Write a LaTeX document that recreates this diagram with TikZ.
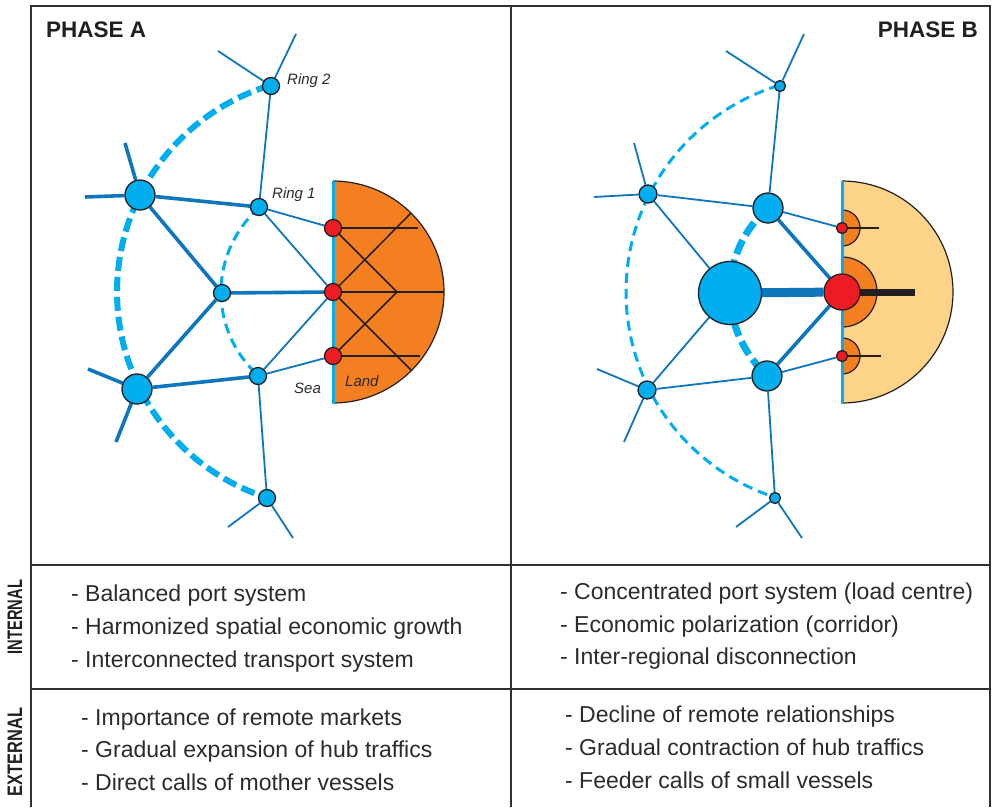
\documentclass[tikz,border=0pt]{standalone}
\usepackage{fontspec}
\setmainfont{Liberation Sans}
\definecolor{cy}{HTML}{00AEEF}
\definecolor{eb}{HTML}{0E76BC}
\definecolor{rd}{HTML}{ED1C24}
\definecolor{og}{HTML}{F37F20}
\definecolor{lo}{HTML}{FDD387}
\definecolor{ink}{HTML}{231F20}
\definecolor{tx}{HTML}{2B2B2B}
\definecolor{fr}{HTML}{303030}
\pgfdeclarelayer{paper}
\pgfdeclarelayer{bg}
\pgfsetlayers{paper,bg,main}
\begin{document}
\begin{tikzpicture}[x=1pt,y=-1pt,
  hub/.style={circle,draw=ink,line width=1.3pt,fill=cy,inner sep=0pt,minimum size=#1},
  port/.style={circle,draw=ink,line width=1.3pt,fill=rd,inner sep=0pt,minimum size=#1},
  lnk/.style={draw=eb,line width=1.8pt},
  lnkk/.style={draw=eb,line width=3.6pt},
  lnkkk/.style={draw=eb,line width=9pt},
  ringthick/.style={draw=cy,line width=6pt,dash pattern=on 14pt off 6pt},
  ringthin/.style={draw=cy,line width=3pt,dash pattern=on 10pt off 6pt},
  ringB/.style={draw=cy,line width=7pt,dash pattern=on 15pt off 6pt},
  coast/.style={draw=cy,line width=3pt},
  landline/.style={draw=ink,line width=1.5pt},
  frame/.style={draw=fr,line width=2pt},
  body/.style={inner sep=0pt,anchor=base west,text=tx,font=\fontsize{23}{27}\selectfont},
  head/.style={inner sep=0pt,text=ink,font=\bfseries\fontsize{22.5}{27}\selectfont},
  side/.style={inner sep=0pt,text=ink,rotate=90,font=\bfseries\fontsize{21}{25}\selectfont},
  ringlbl/.style={inner sep=0pt,anchor=base west,text=tx,font=\itshape\fontsize{15}{18}\selectfont}]
\useasboundingbox (0,0) rectangle (992,807);
\begin{pgfonlayer}{paper}
\fill[white] (0,0) rectangle (992,807);
\end{pgfonlayer}

% frame
\draw[frame] (31,807) -- (31,6) -- (990,6) -- (990,807);
\draw[frame] (511,6) -- (511,807);
\draw[frame] (31,565) -- (990,565);
\draw[frame] (31,689) -- (990,689);

% headings and texts
\node[head,anchor=base west] (hA) at (46,37) {PHASE A};
\node[head,anchor=base east] (hB) at (978,37) {PHASE B};
\node[side] (sI) at (15,617) {\scalebox{0.7}[1]{INTERNAL}};
\node[side] (sE) at (15,752) {\scalebox{0.78}[1]{EXTERNAL}};

\node[body] (a1) at (71,601) {- Balanced port system};
\node[body] (a2) at (71,634) {- Harmonized spatial economic growth};
\node[body] (a3) at (71,667) {- Interconnected transport system};
\node[body] (a4) at (81,725) {- Importance of remote markets};
\node[body] (a5) at (81,757) {- Gradual expansion of hub traffics};
\node[body] (a6) at (81,790) {- Direct calls of mother vessels};
\node[body] (b1) at (560,599) {- Concentrated port system (load centre)};
\node[body] (b2) at (560,632) {- Economic polarization (corridor)};
\node[body] (b3) at (560,664) {- Inter-regional disconnection};
\node[body] (b4) at (565,722) {- Decline of remote relationships};
\node[body] (b5) at (565,755) {- Gradual contraction of hub traffics};
\node[body] (b6) at (565,788) {- Feeder calls of small vessels};

% ---------------- PHASE A ----------------
\node[hub=17pt] (A_r2t) at (271,86) {};
\node[hub=30pt] (A_bu) at (140,195) {};
\node[hub=17pt] (A_r1u) at (259,207) {};
\node[port=17pt] (A_pt) at (333,228) {};
\node[hub=17pt] (A_m) at (222,293) {};
\node[port=17pt] (A_pm) at (333,292) {};
\node[port=17pt] (A_pb) at (333,356) {};
\node[hub=30pt] (A_bl) at (137,389) {};
\node[hub=17pt] (A_r1l) at (258,376) {};
\node[hub=17pt] (A_r2b) at (267,498) {};
\coordinate (A_s1) at (218,51);
\coordinate (A_s2) at (296,34);
\coordinate (A_s3) at (125,143);
\coordinate (A_s4) at (85,197);
\coordinate (A_s5) at (88,369);
\coordinate (A_s6) at (116,442);
\coordinate (A_s7) at (228,527);
\coordinate (A_s8) at (293,538);
\coordinate (A_l1) at (418,228);
\coordinate (A_l2) at (444,292);
\coordinate (A_l3) at (420,356);
\coordinate (A_v) at (397,292);
\coordinate (A_u) at (411,213);
\coordinate (A_w) at (411,370);

\node[ringlbl] (A_t2) at (287,84) {Ring 2};
\node[ringlbl] (A_t1) at (272,198) {Ring 1};
\node[ringlbl] (A_ts) at (294,393) {Sea};
\node[ringlbl] (A_tl) at (345,386) {Land};

\begin{pgfonlayer}{bg}
\filldraw[fill=og,draw=ink,line width=1.2pt] plot[domain=90:-90,samples=61] ({333+111*cos(\x)},{292-111*sin(\x)});
\draw[landline] (A_pt.center) -- (A_l1);
\draw[landline] (A_pm.center) -- (A_l2);
\draw[landline] (A_pb.center) -- (A_l3);
\draw[landline] (A_pt.center) -- (A_v) -- (A_pb.center);
\draw[landline] (A_u) -- (A_pm.center) -- (A_w);
\draw[coast] (333,181) -- (333,404);
\draw[ringthick] plot[domain=107:253,samples=90] ({333+216*cos(\x)},{292-216*sin(\x)});
\draw[ringthin] plot[domain=131:228,samples=60] ({333+112*cos(\x)},{292-112*sin(\x)});
\draw[lnk] (A_r2t) -- (A_s1);
\draw[lnk] (A_r2t) -- (A_s2);
\draw[lnkk] (A_bu) -- (A_s3);
\draw[lnkk] (A_bu) -- (A_s4);
\draw[lnkk] (A_bl) -- (A_s5);
\draw[lnkk] (A_bl) -- (A_s6);
\draw[lnk] (A_r2b) -- (A_s7);
\draw[lnk] (A_r2b) -- (A_s8);
\draw[lnk] (A_r2t) -- (A_r1u);
\draw[lnkk] (A_bu) -- (A_r1u);
\draw[lnkk] (A_bu) -- (A_m);
\draw[lnk] (A_r1u) -- (A_pt);
\draw[lnk] (A_r1u) -- (A_pm);
\draw[lnkk] (A_m) -- (A_pm);
\draw[lnkk] (A_m) -- (A_bl);
\draw[lnkk] (A_bl) -- (A_r1l);
\draw[lnk] (A_r1l) -- (A_pm);
\draw[lnk] (A_r1l) -- (A_pb);
\draw[lnk] (A_r1l) -- (A_r2b);
\end{pgfonlayer}

% ---------------- PHASE B ----------------
\node[hub=11pt] (B_r2t) at (780,86) {};
\node[hub=18pt] (B_ul) at (648,194) {};
\node[hub=30pt] (B_r1u) at (768,208) {};
\node[port=11pt] (B_pt) at (842,228) {};
\node[hub=63pt] (B_big) at (730,293) {};
\node[port=36pt] (B_pm) at (842,292) {};
\node[port=11pt] (B_pb) at (842,356) {};
\node[hub=30pt] (B_r1l) at (767,376) {};
\node[hub=18pt] (B_ll) at (647,390) {};
\node[hub=11pt] (B_r2b) at (775,498) {};
\coordinate (B_s1) at (726,51);
\coordinate (B_s2) at (804,34);
\coordinate (B_s3) at (634,143);
\coordinate (B_s4) at (594,197);
\coordinate (B_s5) at (597,369);
\coordinate (B_s6) at (624,442);
\coordinate (B_s7) at (736,527);
\coordinate (B_s8) at (802,538);
\coordinate (B_l1) at (879,228);
\coordinate (B_l2) at (915,292);
\coordinate (B_l3) at (881,356);

\begin{pgfonlayer}{bg}
\filldraw[fill=lo,draw=ink,line width=1.2pt] plot[domain=90:-90,samples=61] ({842+111*cos(\x)},{292-111*sin(\x)});
\filldraw[fill=og,draw=ink,line width=1.2pt] plot[domain=90:-90,samples=31] ({842+18*cos(\x)},{228-18*sin(\x)});
\filldraw[fill=og,draw=ink,line width=1.2pt] plot[domain=90:-90,samples=41] ({842+35*cos(\x)},{292-35*sin(\x)});
\filldraw[fill=og,draw=ink,line width=1.2pt] plot[domain=90:-90,samples=31] ({842+18*cos(\x)},{356-18*sin(\x)});
\draw[landline] (B_pt.center) -- (B_l1);
\draw[draw=ink,line width=7pt] (B_pm.center) -- (B_l2);
\draw[landline] (B_pb.center) -- (B_l3);
\draw[coast] (842,181) -- (842,404);
\draw[ringthin] plot[domain=107:253,samples=90] ({842+216*cos(\x)},{292-216*sin(\x)});
\draw[ringB] plot[domain=131:228,samples=60] ({842+112*cos(\x)},{292-112*sin(\x)});
\draw[lnk] (B_r2t) -- (B_s1);
\draw[lnk] (B_r2t) -- (B_s2);
\draw[lnk] (B_ul) -- (B_s3);
\draw[lnk] (B_ul) -- (B_s4);
\draw[lnk] (B_ll) -- (B_s5);
\draw[lnk] (B_ll) -- (B_s6);
\draw[lnk] (B_r2b) -- (B_s7);
\draw[lnk] (B_r2b) -- (B_s8);
\draw[lnk] (B_r2t) -- (B_r1u);
\draw[lnk] (B_ul) -- (B_r1u);
\draw[lnk] (B_ul) -- (B_big);
\draw[lnk] (B_r1u) -- (B_pt);
\draw[lnkk] (B_r1u) -- (B_pm);
\draw[lnkkk] (B_big) -- (B_pm);
\draw[lnk] (B_big) -- (B_ll);
\draw[lnk] (B_ll) -- (B_r1l);
\draw[lnkk] (B_r1l) -- (B_pm);
\draw[lnk] (B_r1l) -- (B_pb);
\draw[lnk] (B_r1l) -- (B_r2b);
\end{pgfonlayer}
\end{tikzpicture}
\end{document}
